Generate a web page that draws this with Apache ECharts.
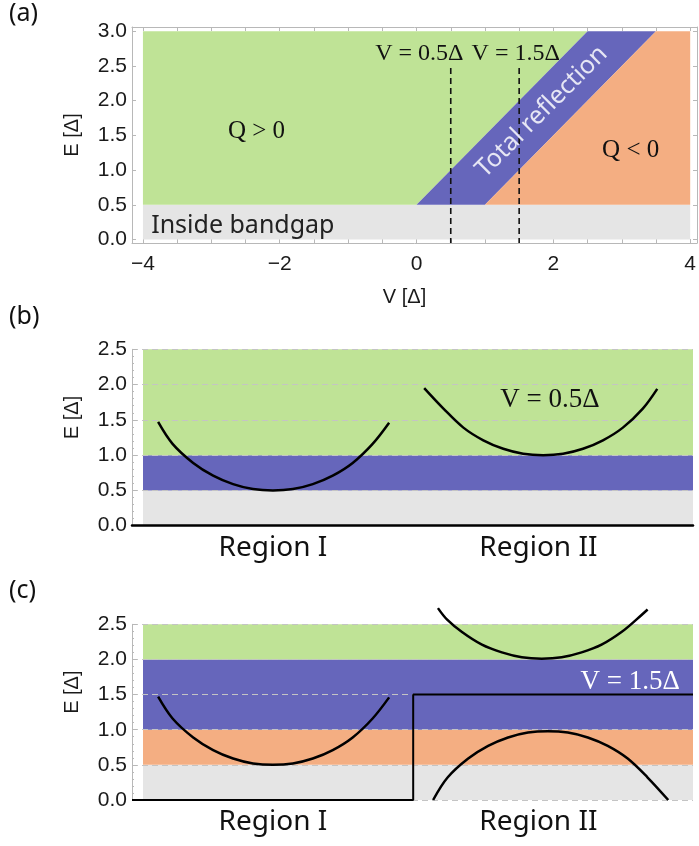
<!DOCTYPE html>
<html><head><meta charset="utf-8">
<script src="https://cdn.jsdelivr.net/npm/echarts@6/dist/echarts.min.js"></script>
<style>html,body{margin:0;padding:0;background:#fff}#c{width:699px;height:846px}</style>
</head><body><div id="c"></div>
<script>
// ================= DATA =================
const COLORS = { green: '#bfe396', blue: '#6666bb', orange: '#f4ae82', gray: '#e5e5e5' };

// Panel (a): regions in the (V, E) plane, vertices [V, E]
const regionA_gray   = [[-4, 0], [4, 0], [4, 0.5], [-4, 0.5]];
const regionA_green  = [[-4, 0.5], [0, 0.5], [2.5, 3], [-4, 3]];
const regionA_blue   = [[0, 0.5], [1, 0.5], [3.5, 3], [2.5, 3]];
const regionA_orange = [[1, 0.5], [4, 0.5], [4, 3], [3.5, 3]];
const markerV = [0.5, 1.5];          // dashed marker lines V = 0.5Δ, 1.5Δ
const markerTopE = 2.47;             // top of dashed lines
const xTickLabelsA = [-4, -2, 0, 2, 4];
const yTickLabelsA = [0, 0.5, 1, 1.5, 2, 2.5, 3];

// Panels (b), (c): horizontal bands [E low, E high, colour key]
const bandX = [-4, 4];
const bandsB = [[0, 0.5, 'gray'], [0.5, 1, 'blue'], [1, 2.5, 'green']];
const bandsC = [[0, 0.5, 'gray'], [0.5, 1, 'orange'], [1, 2, 'blue'], [2, 2.5, 'green']];
const yTickLabelsBC = [0, 0.5, 1, 1.5, 2, 2.5];
const regionLabels = ['Region I', 'Region II'];
const regionLabelX = [-2.11, 1.75];

// Dispersion curves (x position, E)
const curveRegionI_x  = [-3.78, -3.57, -3.27, -2.98, -2.69, -2.40, -2.11, -1.82, -1.53, -1.24, -0.95, -0.66, -0.42];
const curveRegionI_E  = [1.47, 1.16, 0.89, 0.71, 0.59, 0.52, 0.50, 0.52, 0.59, 0.71, 0.89, 1.16, 1.46];
const curveB_II_x     = [0.09, 0.37, 0.66, 0.95, 1.24, 1.53, 1.82, 2.11, 2.40, 2.69, 2.98, 3.27, 3.48];
const curveB_II_E     = [1.95, 1.66, 1.39, 1.21, 1.09, 1.02, 1.00, 1.02, 1.09, 1.21, 1.39, 1.66, 1.94];
const curveC_IIup_x   = [0.29, 0.42, 0.64, 0.93, 1.22, 1.51, 1.80, 2.09, 2.38, 2.67, 2.96, 3.18, 3.34];
const curveC_IIup_E   = [2.73, 2.57, 2.39, 2.21, 2.10, 2.03, 2.01, 2.03, 2.10, 2.21, 2.39, 2.57, 2.71];
const curveC_IIlo_x   = [0.22, 0.43, 0.73, 1.02, 1.31, 1.60, 1.89, 2.18, 2.47, 2.76, 3.05, 3.34, 3.64];
const curveC_IIlo_E   = [0.00, 0.32, 0.59, 0.77, 0.89, 0.96, 0.98, 0.96, 0.89, 0.77, 0.59, 0.32, 0.00];
// Potential step in (c)
const stepC_x = [-4.16, -0.07, -0.07, 4.0];
const stepC_E = [0, 0, 1.5, 1.5];

// ================= CHART =================
const SANS = '"Liberation Sans", Arial, sans-serif';
const SERIF = '"Liberation Serif", "Times New Roman", serif';
const UI = '"Noto Sans", "Open Sans", sans-serif';
const FRAME = '#b8b8b8';

function polySeries(xi, yi, polys) {
  return {
    type: 'custom', xAxisIndex: xi, yAxisIndex: yi, z: 1, silent: true,
    data: polys.map((p) => [p.pts[0][0], p.pts[0][1]]),
    renderItem: (params, api) => {
      const p = polys[params.dataIndex];
      return { type: 'polygon', shape: { points: p.pts.map((v) => api.coord(v)) }, style: { fill: p.color } };
    }
  };
}
function bandPolys(bands) {
  return bands.map((b) => ({ color: COLORS[b[2]], pts: [[bandX[0], b[0]], [bandX[1], b[0]], [bandX[1], b[1]], [bandX[0], b[1]]] }));
}
function textSeries(xi, yi, items) {
  return {
    type: 'custom', xAxisIndex: xi, yAxisIndex: yi, z: 10, silent: true, clip: false,
    data: items.map((t) => [t.at[0], t.at[1]]),
    renderItem: (params, api) => {
      const t = items[params.dataIndex];
      const p = api.coord([api.value(0), api.value(1)]);
      return {
        type: 'text', x: p[0], y: p[1], rotation: (t.rot || 0) * Math.PI / 180,
        style: { text: t.text, fill: t.color || '#111', fontSize: t.size, fontFamily: t.font,
                 align: t.align || 'center', verticalAlign: 'middle' }
      };
    }
  };
}
function curve(xi, yi, xs, es, smooth) {
  return {
    type: 'line', xAxisIndex: xi, yAxisIndex: yi, data: xs.map((x, i) => [x, es[i]]),
    smooth: smooth === undefined ? 0.35 : smooth, showSymbol: false, symbol: 'none', clip: false, z: 5, silent: true,
    lineStyle: { color: '#000', width: 2.5 }
  };
}
const fmtMinus = (v) => (v < 0 ? '\u2212' + Math.abs(v) : String(v));

const xMinorA = []; for (let v = -4; v <= 4.001; v += 0.5) xMinorA.push(+v.toFixed(2));
const yMinorA = []; for (let v = 0; v <= 3.001; v += 0.5) yMinorA.push(+v.toFixed(2));

const yBC = (gi) => ({
  gridIndex: gi, type: 'value', min: 0, max: 2.5, interval: 0.5, z: 2,
  axisLine: { show: true, onZero: false, lineStyle: { color: FRAME, width: 1 } },
  axisTick: { show: true, inside: true, length: 5, lineStyle: { color: FRAME } },
  minorTick: { show: true, splitNumber: 5, length: 2, lineStyle: { color: FRAME } },
  splitLine: { show: true, lineStyle: { color: '#c4c4c4', type: [6, 4], width: 1 } },
  axisLabel: { color: '#1a1a1a', fontSize: 21, fontFamily: SANS, margin: 5, formatter: (v) => v.toFixed(1) },
  name: 'E [\u0394]', nameLocation: 'middle', nameGap: 50,
  nameTextStyle: { color: '#1a1a1a', fontSize: 20, fontFamily: SANS, padding: [0, 0, 0, 40] }
});
const xBC = (gi, showLine) => ({
  gridIndex: gi, type: 'value', min: -4.16, max: 4.0, z: 3,
  axisLine: { show: showLine, onZero: false, lineStyle: { color: '#000', width: 2.5 } },
  axisTick: { show: false }, splitLine: { show: false },
  axisLabel: { show: true, customValues: regionLabelX, color: '#111', fontSize: 28, fontFamily: UI, margin: 8,
               formatter: (v) => (v < 0 ? regionLabels[0] : regionLabels[1]) }
});

const option = {
  animation: false,
  backgroundColor: '#fff',
  grid: [
    { left: 132, top: 27, width: 567, height: 216 },
    { left: 132, top: 349.3, width: 561, height: 176.4 },
    { left: 132, top: 624.3, width: 561, height: 175.7 }
  ],
  xAxis: [
    { gridIndex: 0, type: 'value', min: -4.16, max: 4.1, position: 'bottom',
      axisLine: { show: true, onZero: false, lineStyle: { color: FRAME } },
      axisTick: { show: true, inside: true, length: 4, customValues: xMinorA, lineStyle: { color: FRAME } },
      splitLine: { show: false },
      axisLabel: { customValues: xTickLabelsA, color: '#1a1a1a', fontSize: 21, fontFamily: SANS, margin: 11, formatter: fmtMinus },
      name: 'V [\u0394]', nameLocation: 'middle', nameGap: 44,
      nameTextStyle: { color: '#1a1a1a', fontSize: 20, fontFamily: SANS, padding: [0, 20, 0, 0] } },
    { gridIndex: 0, type: 'value', min: -4.16, max: 4.1, position: 'top',
      axisLine: { show: true, onZero: false, lineStyle: { color: FRAME } },
      axisTick: { show: true, inside: true, length: 4, customValues: xMinorA, lineStyle: { color: FRAME } },
      splitLine: { show: false }, axisLabel: { show: false } },
    xBC(1, true),
    xBC(2, false)
  ],
  yAxis: [
    { gridIndex: 0, type: 'value', min: -0.05, max: 3.06, position: 'left',
      axisLine: { show: true, onZero: false, lineStyle: { color: FRAME } },
      axisTick: { show: true, inside: true, length: 4, customValues: yMinorA, lineStyle: { color: FRAME } },
      splitLine: { show: false },
      axisLabel: { customValues: yTickLabelsA, color: '#1a1a1a', fontSize: 21, fontFamily: SANS, margin: 5, formatter: (v) => v.toFixed(1) },
      name: 'E [\u0394]', nameLocation: 'middle', nameGap: 50,
      nameTextStyle: { color: '#1a1a1a', fontSize: 20, fontFamily: SANS } },
    { gridIndex: 0, type: 'value', min: -0.05, max: 3.06, position: 'right',
      axisLine: { show: true, onZero: false, lineStyle: { color: FRAME } },
      axisTick: { show: true, inside: true, length: 4, customValues: yMinorA, lineStyle: { color: FRAME } },
      splitLine: { show: false }, axisLabel: { show: false } },
    yBC(1),
    yBC(2)
  ],
  series: [
    // ---- panel (a)
    polySeries(0, 0, [
      { color: COLORS.gray, pts: regionA_gray },
      { color: COLORS.green, pts: regionA_green },
      { color: COLORS.blue, pts: regionA_blue },
      { color: COLORS.orange, pts: regionA_orange }
    ]),
    ...markerV.map((v) => ({
      type: 'line', xAxisIndex: 0, yAxisIndex: 0, data: [[v, markerTopE], [v, -0.05]],
      showSymbol: false, symbol: 'none', z: 6, silent: true, clip: false,
      lineStyle: { color: '#111', width: 1.6, type: [6, 4] }
    })),
    textSeries(0, 0, [
      { text: 'Q > 0', at: [-2.34, 1.55], size: 25, font: SERIF },
      { text: 'Q < 0', at: [3.13, 1.28], size: 25, font: SERIF },
      { text: 'V = 0.5\u0394', at: [0.04, 2.68], size: 24, font: SERIF },
      { text: 'V = 1.5\u0394', at: [1.45, 2.68], size: 24, font: SERIF },
      { text: 'Total reflection', at: [1.83, 1.84], size: 25, font: UI, color: '#e6e6f4', rot: 45 },
      { text: 'Inside bandgap', at: [-3.88, 0.19], size: 25, font: UI, color: '#222', align: 'left' }
    ]),
    // ---- panel (b)
    polySeries(2, 2, bandPolys(bandsB)),
    curve(2, 2, curveRegionI_x, curveRegionI_E),
    curve(2, 2, curveB_II_x, curveB_II_E),
    textSeries(2, 2, [
      { text: 'V = 0.5\u0394', at: [1.92, 1.78], size: 27, font: SERIF }
    ]),
    // ---- panel (c)
    polySeries(3, 3, bandPolys(bandsC)),
    curve(3, 3, curveRegionI_x, curveRegionI_E),
    curve(3, 3, curveC_IIup_x, curveC_IIup_E),
    curve(3, 3, curveC_IIlo_x, curveC_IIlo_E),
    { type: 'line', xAxisIndex: 3, yAxisIndex: 3, data: stepC_x.map((x, i) => [x, stepC_E[i]]),
      showSymbol: false, symbol: 'none', z: 6, silent: true, clip: false,
      lineStyle: { color: '#000', width: 2 } },
    textSeries(3, 3, [
      { text: 'V = 1.5\u0394', at: [3.81, 1.68], size: 27, font: SERIF, color: '#fff', align: 'right' }
    ])
  ],
  graphic: [
    { type: 'text', left: 9, top: 1, style: { text: '(a)', fontSize: 25, fontFamily: UI, fill: '#111' } },
    { type: 'text', left: 9, top: 304, style: { text: '(b)', fontSize: 25, fontFamily: UI, fill: '#111' } },
    { type: 'text', left: 9, top: 578, style: { text: '(c)', fontSize: 25, fontFamily: UI, fill: '#111' } }
  ]
};

const chart = echarts.init(document.getElementById('c'));
chart.setOption(option);
</script>
</body></html>
